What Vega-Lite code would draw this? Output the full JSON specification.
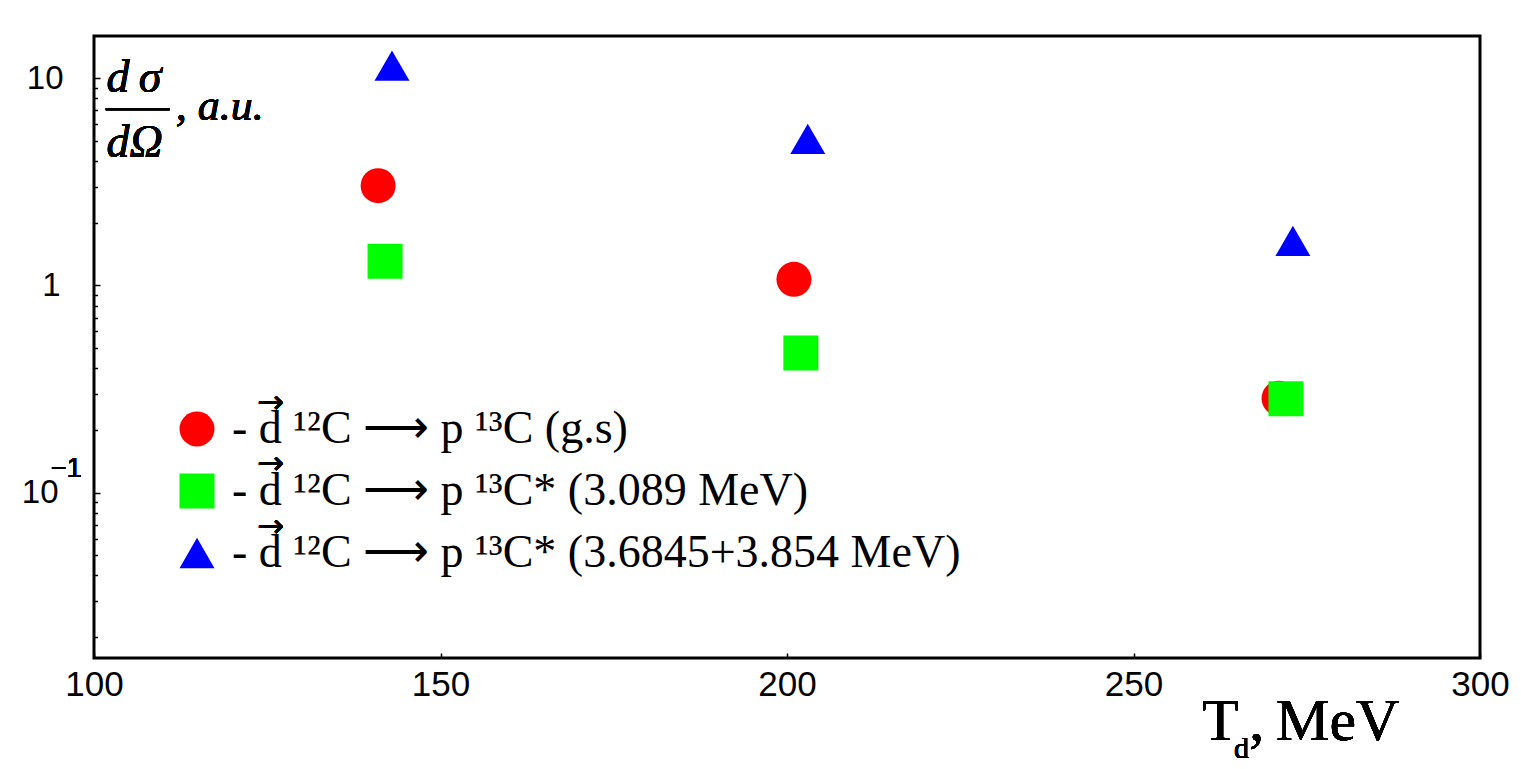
{
  "$schema": "https://vega.github.io/schema/vega-lite/v6.json",
  "width": 1386,
  "height": 622,
  "autosize": {"type": "none"},
  "padding": {"left": 94, "top": 36, "right": 41, "bottom": 111},
  "background": "white",
  "config": {
    "view": {"stroke": "#000", "strokeWidth": 3},
    "axis": {"domain": false, "grid": false, "tickColor": "#000", "tickWidth": 1.5, "labelColor": "#000", "labelFont": "Liberation Sans"}
  },
  "data": {
    "values": [
      {"T": 141, "xs": 3.03, "reaction": "- d \u00b9\u00b2C \u27f6 p \u00b9\u00b3C (g.s)"},
      {"T": 201, "xs": 1.07, "reaction": "- d \u00b9\u00b2C \u27f6 p \u00b9\u00b3C (g.s)"},
      {"T": 271, "xs": 0.285, "reaction": "- d \u00b9\u00b2C \u27f6 p \u00b9\u00b3C (g.s)"},
      {"T": 142, "xs": 1.31, "reaction": "- d \u00b9\u00b2C \u27f6 p \u00b9\u00b3C* (3.089 MeV)"},
      {"T": 202, "xs": 0.472, "reaction": "- d \u00b9\u00b2C \u27f6 p \u00b9\u00b3C* (3.089 MeV)"},
      {"T": 272, "xs": 0.284, "reaction": "- d \u00b9\u00b2C \u27f6 p \u00b9\u00b3C* (3.089 MeV)"},
      {"T": 143, "xs": 11.5, "reaction": "- d \u00b9\u00b2C \u27f6 p \u00b9\u00b3C* (3.6845+3.854 MeV)"},
      {"T": 203, "xs": 5.1, "reaction": "- d \u00b9\u00b2C \u27f6 p \u00b9\u00b3C* (3.6845+3.854 MeV)"},
      {"T": 273, "xs": 1.64, "reaction": "- d \u00b9\u00b2C \u27f6 p \u00b9\u00b3C* (3.6845+3.854 MeV)"}
    ]
  },
  "layer": [
    {
      "mark": {"type": "point", "filled": true, "opacity": 1, "strokeWidth": 0},
      "encoding": {
        "x": {
          "field": "T", "type": "quantitative",
          "scale": {"domain": [100, 300], "nice": false, "zero": false},
          "axis": {"values": [100, 150, 200, 250, 300], "tickSize": -5, "labelFontSize": 35, "labelPadding": 14, "title": null, "labelFlush": false, "labelOverlap": false}
        },
        "y": {
          "field": "xs", "type": "quantitative",
          "scale": {"type": "log", "domain": [0.0159, 16], "nice": false},
          "axis": {
            "values": [0.02, 0.03, 0.04, 0.05, 0.06, 0.07, 0.08, 0.09, 0.1, 0.2, 0.3, 0.4, 0.5, 0.6, 0.7, 0.8, 0.9, 1, 2, 3, 4, 5, 6, 7, 8, 9, 10],
            "title": null,
            "tickSize": {"condition": {"test": "datum.value == 0.1 || datum.value == 1 || datum.value == 10", "value": -6}, "value": -3.5},
            "labelExpr": "datum.value == 10 ? '10' : datum.value == 1 ? '1' : datum.value == 0.1 ? '10' : ''",
            "labelFontSize": 33,
            "labelAlign": "right",
            "labelBaseline": "middle",
            "labelOverlap": false,
            "labelPadding": {"condition": [{"test": "datum.value == 1", "value": 40}, {"test": "datum.value == 0.1", "value": 42}], "value": 37}
          }
        },
        "color": {
          "field": "reaction", "type": "nominal",
          "scale": {"domain": ["- d \u00b9\u00b2C \u27f6 p \u00b9\u00b3C (g.s)", "- d \u00b9\u00b2C \u27f6 p \u00b9\u00b3C* (3.089 MeV)", "- d \u00b9\u00b2C \u27f6 p \u00b9\u00b3C* (3.6845+3.854 MeV)"], "range": ["#ff0000", "#00ff00", "#0000ff"]},
          "legend": {"orient": "none", "legendX": 80, "legendY": 370, "title": null, "labelFont": "Liberation Serif", "labelFontSize": 46, "labelLimit": 0, "labelOffset": 12, "rowPadding": 16, "padding": 0, "labelColor": "#000", "symbolStrokeWidth": 0}
        },
        "shape": {
          "field": "reaction", "type": "nominal",
          "scale": {"domain": ["- d \u00b9\u00b2C \u27f6 p \u00b9\u00b3C (g.s)", "- d \u00b9\u00b2C \u27f6 p \u00b9\u00b3C* (3.089 MeV)", "- d \u00b9\u00b2C \u27f6 p \u00b9\u00b3C* (3.6845+3.854 MeV)"], "range": ["circle", "square", "triangle-up"]},
          "legend": {"orient": "none", "legendX": 80, "legendY": 370, "title": null, "labelFont": "Liberation Serif", "labelFontSize": 46, "labelLimit": 0, "labelOffset": 12, "rowPadding": 16, "padding": 0, "labelColor": "#000", "symbolStrokeWidth": 0}
        },
        "size": {
          "field": "reaction", "type": "nominal",
          "scale": {"domain": ["- d \u00b9\u00b2C \u27f6 p \u00b9\u00b3C (g.s)", "- d \u00b9\u00b2C \u27f6 p \u00b9\u00b3C* (3.089 MeV)", "- d \u00b9\u00b2C \u27f6 p \u00b9\u00b3C* (3.6845+3.854 MeV)"], "range": [1225, 1225, 1350]},
          "legend": {"orient": "none", "legendX": 80, "legendY": 370, "title": null, "labelFont": "Liberation Serif", "labelFontSize": 46, "labelLimit": 0, "labelOffset": 12, "rowPadding": 16, "padding": 0, "labelColor": "#000", "symbolStrokeWidth": 0}
        }
      }
    },
    {
      "mark": {"type": "text", "font": "DejaVu Sans", "fontSize": 32, "align": "center", "baseline": "middle", "color": "#000"},
      "encoding": {"x": {"datum": 125.5}, "y": {"datum": 0.272}, "text": {"value": "\u2192"}}
    },
    {
      "mark": {"type": "text", "font": "DejaVu Sans", "fontSize": 32, "align": "center", "baseline": "middle", "color": "#000"},
      "encoding": {"x": {"datum": 125.5}, "y": {"datum": 0.1368}, "text": {"value": "\u2192"}}
    },
    {
      "mark": {"type": "text", "font": "DejaVu Sans", "fontSize": 32, "align": "center", "baseline": "middle", "color": "#000"},
      "encoding": {"x": {"datum": 125.5}, "y": {"datum": 0.0684}, "text": {"value": "\u2192"}}
    },
    {
      "mark": {"type": "text", "font": "Liberation Serif", "fontStyle": "italic", "fontSize": 46, "align": "left", "baseline": "alphabetic", "color": "#000"},
      "encoding": {"x": {"datum": 101.8}, "y": {"datum": 8.59}, "text": {"value": "d\u2009\u03c3"}}
    },
    {
      "mark": {"type": "rule", "strokeWidth": 2, "color": "#000"},
      "encoding": {"x": {"datum": 101.7}, "x2": {"datum": 110.9}, "y": {"datum": 7.08}}
    },
    {
      "mark": {"type": "text", "font": "Liberation Serif", "fontStyle": "italic", "fontSize": 46, "align": "left", "baseline": "alphabetic", "color": "#000"},
      "encoding": {"x": {"datum": 101.8}, "y": {"datum": 4.17}, "text": {"value": "d\u03a9"}}
    },
    {
      "mark": {"type": "text", "font": "Liberation Serif", "fontStyle": "italic", "fontSize": 44, "align": "left", "baseline": "alphabetic", "color": "#000"},
      "encoding": {"x": {"datum": 111.8}, "y": {"datum": 6.29}, "text": {"value": ", a.u."}}
    },
    {
      "mark": {"type": "text", "font": "Liberation Serif", "fontSize": 60, "align": "left", "baseline": "alphabetic", "color": "#000"},
      "encoding": {"x": {"datum": 259.9}, "y": {"datum": 0.00638}, "text": {"value": "T"}}
    },
    {
      "mark": {"type": "text", "font": "Liberation Serif", "fontSize": 30, "align": "left", "baseline": "alphabetic", "color": "#000"},
      "encoding": {"x": {"datum": 264.5}, "y": {"datum": 0.00525}, "text": {"value": "d"}}
    },
    {
      "mark": {"type": "text", "font": "Liberation Serif", "fontSize": 60, "align": "left", "baseline": "alphabetic", "color": "#000"},
      "encoding": {"x": {"datum": 266.69}, "y": {"datum": 0.00638}, "text": {"value": ","}}
    },
    {
      "mark": {"type": "text", "font": "Liberation Serif", "fontSize": 60, "align": "left", "baseline": "alphabetic", "color": "#000"},
      "encoding": {"x": {"datum": 270.58}, "y": {"datum": 0.00638}, "text": {"value": "MeV"}}
    },
    {
      "mark": {"type": "text", "font": "Liberation Sans", "fontSize": 27, "align": "left", "baseline": "alphabetic", "color": "#000"},
      "encoding": {"x": {"datum": 93.8}, "y": {"datum": 0.119}, "text": {"value": "\u22121"}}
    }
  ]
}
